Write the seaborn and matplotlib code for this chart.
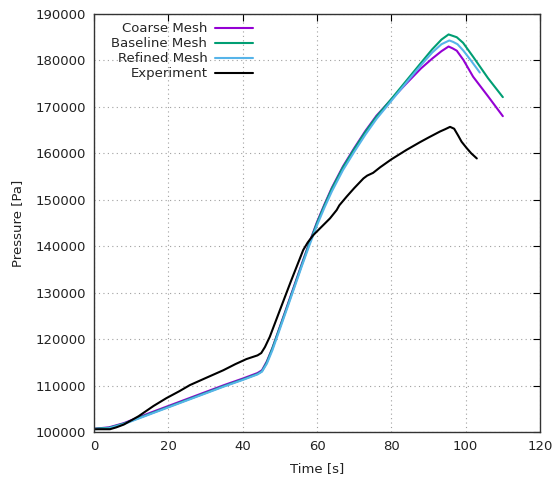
import pandas as pd
import matplotlib
matplotlib.use("Agg")
import matplotlib.pyplot as plt
import seaborn as sns

# Coarse mesh simulation
coarse_t = [0, 4, 8, 15, 20, 25, 30, 35, 40, 44, 45.2, 46.5, 48, 52, 56, 58, 60, 62, 64, 67,
            70, 73, 76, 80, 84, 88, 91, 93.5, 95.4, 96.5, 97.6, 99.4, 102, 106, 110]
coarse_p = [100700, 101000, 101900, 104100, 105600, 107100, 108600, 110100, 111500, 112700,
            113300, 115200, 118100, 127200, 136400, 140900, 145200, 149000, 152600, 157200,
            161100, 164800, 168100, 171600, 175000, 178300, 180400, 182000, 183000, 182600,
            182100, 180100, 176500, 172300, 168000]

# Baseline mesh simulation
base_t = [0, 4, 8, 15, 20, 25, 30, 35, 40, 44, 45.2, 46.5, 48, 52, 56, 58, 60, 62, 64, 67,
          70, 73, 76, 80, 84, 88, 91, 93.5, 95.4, 96.5, 97.6, 99.3, 102, 106, 110]
base_p = [100700, 100900, 101800, 103900, 105400, 106900, 108400, 109900, 111300, 112500,
          113100, 115000, 118000, 127000, 136200, 140700, 145000, 148800, 152400, 157000,
          160900, 164600, 167900, 171700, 175600, 179500, 182400, 184500, 185600, 185300,
          185000, 183800, 180800, 176200, 172100]

# Refined mesh simulation
fine_t = [0, 4, 8, 15, 20, 25, 30, 35, 40, 44, 45.2, 46.5, 48, 52, 56, 58, 60, 62, 64, 67,
          70, 73, 76, 80, 84, 88, 91, 93.5, 95.6, 96.6, 97.8, 99.4, 101.5, 103.8]
fine_p = [100600, 100800, 101700, 103800, 105300, 106800, 108300, 109800, 111200, 112400,
          113000, 114700, 117600, 126700, 135900, 140300, 144500, 148300, 151800, 156400,
          160300, 164000, 167400, 171300, 175200, 179000, 181700, 183500, 184300, 184000,
          183500, 182100, 179900, 177400]

# Experiment
exp_t = [0, 4.3, 6, 8, 12, 16, 19.5, 23, 25.8, 30, 34.8, 38, 41, 44, 45, 46, 47.3, 50, 53,
         56.3, 57.5, 59, 61, 63.5, 65.3, 66, 68, 70, 72.5, 73.5, 75.1, 77, 80, 84, 87.7, 90,
         93.1, 94.5, 95.8, 96.9, 98, 98.9, 100.3, 101.5, 103]
exp_p = [100600, 100600, 101000, 101600, 103400, 105600, 107300, 108800, 110100, 111600,
         113300, 114600, 115700, 116500, 117000, 118300, 120500, 126200, 132500, 139200,
         140800, 142400, 144000, 146000, 147800, 148800, 150700, 152500, 154600, 155200,
         155800, 157000, 158700, 160700, 162400, 163400, 164700, 165200, 165700, 165300,
         163800, 162500, 161100, 160000, 158900]

names = ["Coarse Mesh", "Baseline Mesh", "Refined Mesh", "Experiment"]
colors = ["#9400d3", "#009e73", "#56b4e9", "#000000"]

frames = []
for name, t, p in zip(names, [coarse_t, base_t, fine_t, exp_t],
                      [coarse_p, base_p, fine_p, exp_p]):
    frames.append(pd.DataFrame({"Time": t, "Pressure": p, "Series": name}))
df = pd.concat(frames, ignore_index=True)

sns.set_style("white")
plt.rcParams['font.family'] = ['DejaVu Sans']

fig = plt.figure(figsize=(5.54, 4.78), dpi=100)
ax = fig.add_axes([94 / 554, 1 - 432 / 478, 446 / 554, 418 / 478])

sns.lineplot(data=df, x="Time", y="Pressure", hue="Series", hue_order=names,
             palette=dict(zip(names, colors)), sort=False, estimator=None,
             linewidth=1.5, ax=ax)

ax.set_xlim(0, 120)
ax.set_ylim(100000, 190000)
ax.set_xticks(range(0, 121, 20))
ax.set_yticks(range(100000, 190001, 10000))
ax.grid(True, linestyle=(0, (1, 3)), color="#a0a0a0", linewidth=0.8)
ax.tick_params(direction="in", length=5, width=0.8, top=True, right=True,
               labelsize=9.5, colors="#000000", labelcolor="#222222", pad=6)
for s in ax.spines.values():
    s.set_color("#333333")
    s.set_linewidth(1.0)

ax.set_xlabel("Time [s]", fontsize=9.5, color="#222222", labelpad=6)
ax.set_ylabel("Pressure [Pa]", fontsize=9.5, color="#222222", labelpad=8)

ax.legend(loc="upper right", bbox_to_anchor=(0.356, 0.98), frameon=False,
          markerfirst=False, fontsize=9.5, handlelength=2.9, handletextpad=0.55,
          labelspacing=0.15, borderpad=0, borderaxespad=0)

fig.savefig("out.png", dpi=100)
